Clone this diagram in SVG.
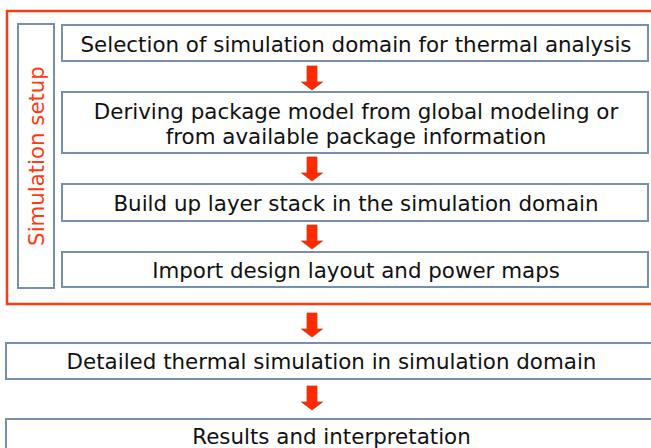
<svg xmlns="http://www.w3.org/2000/svg" width="651" height="448" viewBox="0 0 651 448">
<defs>
<style>
.box{fill:#fff;stroke:#7890b0;stroke-width:2}
.t{font-family:"DejaVu Sans",Verdana,sans-serif;font-size:21.4px;fill:#111;text-anchor:middle}
.arr{fill:#ff2a00;stroke:#c83a1a;stroke-width:0.8}
</style>
<path id="arrow" d="M-5,0 H5 V16 H10.5 L0,24 L-10.5,16 H-5 Z"/>
</defs>
<rect width="651" height="448" fill="#fff"/>
<g id="setup">
<rect x="7" y="11" width="660" height="293" fill="none" stroke="#ff3a10" stroke-width="2.5"/>
</g>
<g id="setup-label">
<rect class="box" x="18" y="24" width="36" height="264"/>
<text x="0" y="0" transform="translate(44,156) rotate(-90)" style="font-family:'DejaVu Sans',Verdana,sans-serif;font-size:21.3px;fill:#ff3a10;text-anchor:middle">Simulation setup</text>
</g>
<g id="n1">
<rect class="box" x="62" y="25" width="586" height="36"/>
<text class="t" x="356" y="52">Selection of simulation domain for thermal analysis</text>
</g>
<g id="n2">
<rect class="box" x="62" y="92" width="586" height="61"/>
<text class="t" x="356" y="119">Deriving package model from global modeling or</text>
<text class="t" x="356" y="144">from available package information</text>
</g>
<g id="n3">
<rect class="box" x="62" y="184" width="586" height="37"/>
<text class="t" x="356" y="211">Build up layer stack in the simulation domain</text>
</g>
<g id="n4">
<rect class="box" x="62" y="252" width="586" height="35"/>
<text class="t" x="356" y="278">Import design layout and power maps</text>
</g>
<g id="n5">
<rect class="box" x="6" y="343" width="660" height="36"/>
<text class="t" x="331.5" y="369">Detailed thermal simulation in simulation domain</text>
</g>
<g id="n6">
<rect class="box" x="6" y="419" width="660" height="40"/>
<text class="t" x="331.5" y="444">Results and interpretation</text>
</g>
<g id="connectors">
<use href="#arrow" class="arr" x="312" y="66"/>
<use href="#arrow" class="arr" x="312" y="157"/>
<use href="#arrow" class="arr" x="312" y="225"/>
<use href="#arrow" class="arr" x="312" y="313"/>
<use href="#arrow" class="arr" x="312" y="386"/>
</g>
</svg>
